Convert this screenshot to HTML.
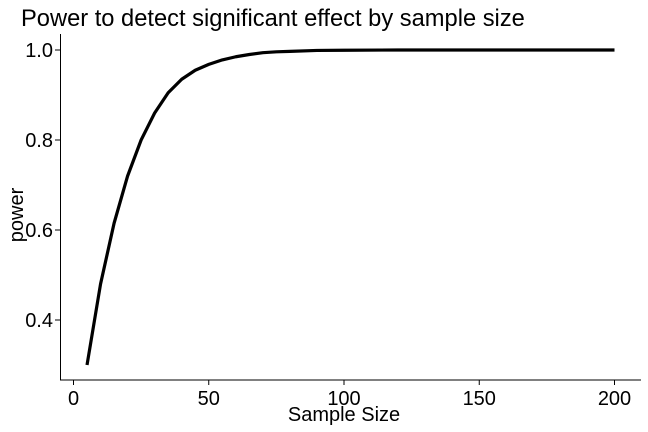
<!DOCTYPE html>
<html><head><meta charset="utf-8"><style>
body{margin:0;background:#fff;}
svg{display:block;font-family:"Liberation Sans",Arial,sans-serif;}
</style></head><body>
<svg id="chart" width="648" height="432">
<text x="21" y="26" font-size="23.7" fill="#000">Power to detect significant effect by sample size</text>
<g id="axes"></g>
<path id="line" fill="none" stroke="#000" stroke-width="3.2" stroke-linejoin="round"></path>
<text x="344" y="421" font-size="20" text-anchor="middle">Sample Size</text>
<text transform="translate(23,215) rotate(-90)" font-size="20" text-anchor="middle">power</text>
</svg>
<script>
const sampleSizes=[5,10,15,20,25,30,35,40,45,50,55,60,65,70,75,80,90,100,120,150,200];
const powerValues=[0.30,0.48,0.615,0.72,0.80,0.86,0.905,0.935,0.955,0.968,0.978,0.985,0.99,0.994,0.996,0.997,0.999,0.9995,1.0,1.0,1.0];
const xTicks=[0,50,100,150,200];
const yTicks=[0.4,0.6,0.8,1.0];
const xs=v=>73.5+v*2.705;
const ys=v=>50+(1-v)*450;
const ns="http://www.w3.org/2000/svg";
const g=document.getElementById('axes');
function mk(t,a){const e=document.createElementNS(ns,t);for(const k in a)e.setAttribute(k,a[k]);g.appendChild(e);return e;}
const xa=mk('line',{x1:60,y1:380,x2:641,y2:380,stroke:'#000','stroke-width':1});


const ya=mk('line',{x1:60.5,y1:34,x2:60.5,y2:380,stroke:'#000','stroke-width':1});


xTicks.forEach(v=>{
 mk('line',{x1:xs(v),y1:380,x2:xs(v),y2:385,stroke:'#000'});
 const t=mk('text',{x:xs(v),y:405,'font-size':20,'text-anchor':'middle'});t.textContent=v;
 
 
});
yTicks.forEach(v=>{
 mk('line',{x1:55,y1:ys(v),x2:60,y2:ys(v),stroke:'#000'});
 const t=mk('text',{x:53,y:ys(v)+7,'font-size':20,'text-anchor':'end'});t.textContent=v.toFixed(1);
 
 
});
document.getElementById('line').setAttribute('d',sampleSizes.map((n,i)=>(i?'L':'M')+xs(n)+','+ys(powerValues[i])).join(''));
</script>
</body></html>
